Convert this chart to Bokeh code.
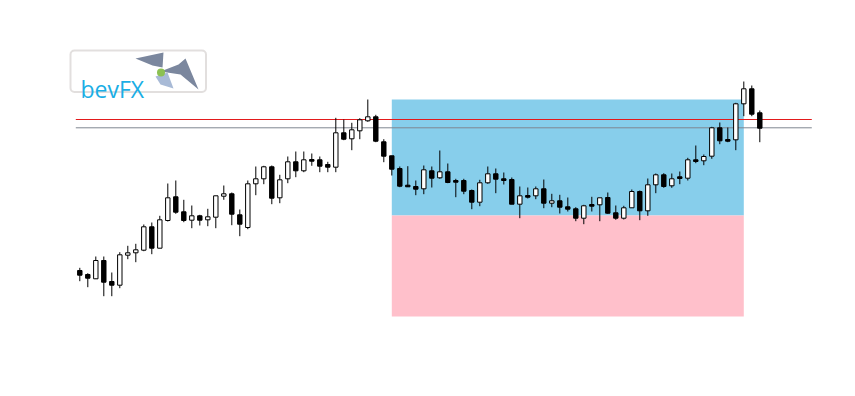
from bokeh.plotting import figure
from bokeh.models import Range1d, BoxAnnotation, ColumnDataSource
from bokeh.core.properties import value
from bokeh.embed import file_html
from bokeh.resources import INLINE

# ---- data (price in points) ----
opens = [130, 126, 121.7, 140, 119, 115.3, 145.3, 147.7, 150.3, 173.7,
         152.3, 180, 203.7, 188.7, 180.3, 184.7, 180.7, 183.3, 204.3, 206.7,
         185.7, 173, 216.7, 221.7, 233.7, 202.7, 221.7, 238.7, 229.7, 241,
         240.7, 236, 233.3, 267.7, 261.7, 269.7, 279.7, 283.7, 258.7, 244.7,
         232, 215.3, 214, 211.7, 229.7, 222.7, 228.7, 220, 220, 210,
         198.3, 217.7, 226.7, 221.7, 221, 196.3, 205, 204.7, 211.7, 197.3,
         199.7, 193.7, 191.7, 182.3, 196, 195.7, 203, 187.7, 182.3, 192.7,
         209, 189.7, 215.7, 225.7, 214.7, 223.7, 222.3, 240.7, 239.7, 244.3,
         272.7, 261, 260.7, 296.7, 311.7, 287.7]
highs = [132.7, 127.3, 144, 144, 128, 148.3, 154.7, 156.7, 176, 178,
         184.7, 217, 220, 200.7, 195, 185.7, 191.7, 204.7, 215, 208,
         191, 220, 234, 234.7, 235, 225.7, 244, 249, 249, 247,
         244, 238.7, 282.7, 281, 277.7, 282.3, 301, 285.7, 261.3, 244.7,
         234, 234.3, 220, 235, 234, 250, 237, 221.7, 221.7, 211,
         220.7, 234, 232, 228, 223, 214, 213, 214, 221, 206.7,
         205.7, 203, 193.3, 195.7, 203.7, 202.7, 208, 195, 194.7, 211,
         210, 222, 227, 227.3, 227, 229, 242.7, 255, 246, 273.7,
         278, 273, 297.7, 319, 315, 290]
lows = [119.3, 113.3, 121.7, 104.3, 104.3, 112.3, 141.3, 138.3, 149.3, 146.3,
        152.3, 179, 186.7, 178.3, 172.3, 175, 174.3, 172.3, 200.7, 175.3,
        164.3, 171.3, 205.3, 216.3, 196.3, 197.3, 217.3, 223.3, 228.3, 234.7,
        228.3, 228.3, 228.3, 260.3, 250.3, 261.3, 278.7, 258.3, 238.3, 225,
        213.3, 213.7, 205.3, 206.3, 213, 221.7, 217.3, 203.3, 206.3, 191.3,
        194.3, 216.7, 207.3, 216, 196.3, 182.3, 202, 201.3, 192.3, 193.3,
        187, 189, 179.3, 176.3, 189, 179.3, 186.7, 180.7, 181, 192.7,
        180.3, 184.7, 207.3, 212.7, 212.7, 216.3, 220, 237.3, 235.3, 241.7,
        256.3, 258.3, 250.3, 284.3, 284.3, 258.3]
closes = [125.3, 122.3, 140, 118.3, 115.3, 145.7, 147.7, 150.7, 173.7, 152.3,
          180.7, 202.7, 188.3, 180, 184.7, 180.3, 183.7, 204.7, 206.7, 186.3,
          176.3, 216.7, 221.7, 233.7, 202.3, 220.7, 238.7, 229.7, 240.7, 239.3,
          234.3, 233.3, 267.7, 261.3, 270.7, 280.7, 283.7, 259.3, 244.3, 231.3,
          214.3, 213.7, 211.3, 230.7, 222.3, 228.7, 218, 218.3, 209.3, 198.3,
          217.7, 226.7, 221.3, 220, 196.3, 204.7, 203.3, 211.7, 197.3, 199.7,
          193.3, 191.3, 182.3, 194.7, 194.3, 202.7, 187.3, 182.3, 192.7, 209,
          189.7, 215.7, 225.7, 214, 221.7, 222, 240.7, 239, 244, 272.7,
          259.7, 259.3, 296.7, 311.7, 286.3, 272.3]

# horizontal price levels
level_values = [281.0, 272.7]
level_colors = ["#e31a1c", "#7f8791"]

# zones (bar index range and price bounds)
zone_start = 39
zone_end = 83
zone_top = 301.0
zone_mid = 185.0
zone_bottom = 84.0

# ---- figure ----
W, H = 855, 396
x0_px = 79.3
bar_px = 8.0
p = figure(width=W, height=H, output_backend="svg", toolbar_location=None,
           x_range=Range1d(-x0_px / bar_px, (W - x0_px) / bar_px),
           y_range=Range1d(4, 400), min_border=0)
p.axis.visible = False
p.grid.visible = False
p.outline_line_color = None
p.background_fill_color = "white"
p.border_fill_color = "white"


def px(xp, yp):
    """pixel position -> data coordinates (used only for the logo decoration)"""
    return (xp - x0_px) / bar_px, 400 - yp


# zones
p.quad(left=[zone_start], right=[zone_end], top=[zone_top], bottom=[zone_mid],
       fill_color="#87ceeb", line_color=None)
p.quad(left=[zone_start], right=[zone_end], top=[zone_mid], bottom=[zone_bottom],
       fill_color="#ffc0cb", line_color=None)

# levels
n = len(opens)
for lv, lc in zip(level_values, level_colors):
    p.segment(x0=[-0.5], y0=[lv], x1=[n + 5.5], y1=[lv], line_color=lc, line_width=1)

# candles
idx = list(range(n))
src = ColumnDataSource(dict(
    x=idx, high=highs, low=lows,
    top=[max(o, c) for o, c in zip(opens, closes)],
    bottom=[min(o, c) for o, c in zip(opens, closes)],
    fill=["white" if c >= o else "black" for o, c in zip(opens, closes)],
))
p.segment(x0="x", y0="high", x1="x", y1="low", source=src, line_color="black", line_width=1)
p.vbar(x="x", width=0.55, top="top", bottom="bottom", source=src,
       fill_color="fill", line_color="black", line_width=1)

# ---- logo ----
l, t = px(70, 50)
r, b = px(205.5, 91.5)
p.add_layout(BoxAnnotation(left=l, right=r, top=t, bottom=b, fill_color="white",
                           fill_alpha=1, line_color="#9e9593", line_width=2,
                           border_radius=4, level="underlay"))
tx, ty = px(80, 88)
p.text(x=[tx], y=[ty], text=["bevFX"], text_font=value("Open Sans"),
       text_font_size="23px", text_color="#1aaee5", text_baseline="alphabetic",
       text_align="left")

dark_polys = [
    [(135, 58), (163, 52), (162, 67), (152, 65)],
    [(160, 71), (178, 64), (185, 58), (198, 89), (180, 74)],
]
light_polys = [[(155, 76), (167, 72), (173, 88), (160, 84)]]
for polys, col in ((dark_polys, "#7b879e"), (light_polys, "#a8bad6")):
    xs = [[px(a, c)[0] for a, c in poly] for poly in polys]
    ys = [[px(a, c)[1] for a, c in poly] for poly in polys]
    p.patches(xs=xs, ys=ys, fill_color=col, line_color=None)
gx, gy = px(160.5, 72)
p.scatter(x=[gx], y=[gy], size=8, fill_color="#8cc152", line_color=None)

open("out.html", "w").write(file_html(p, INLINE))
